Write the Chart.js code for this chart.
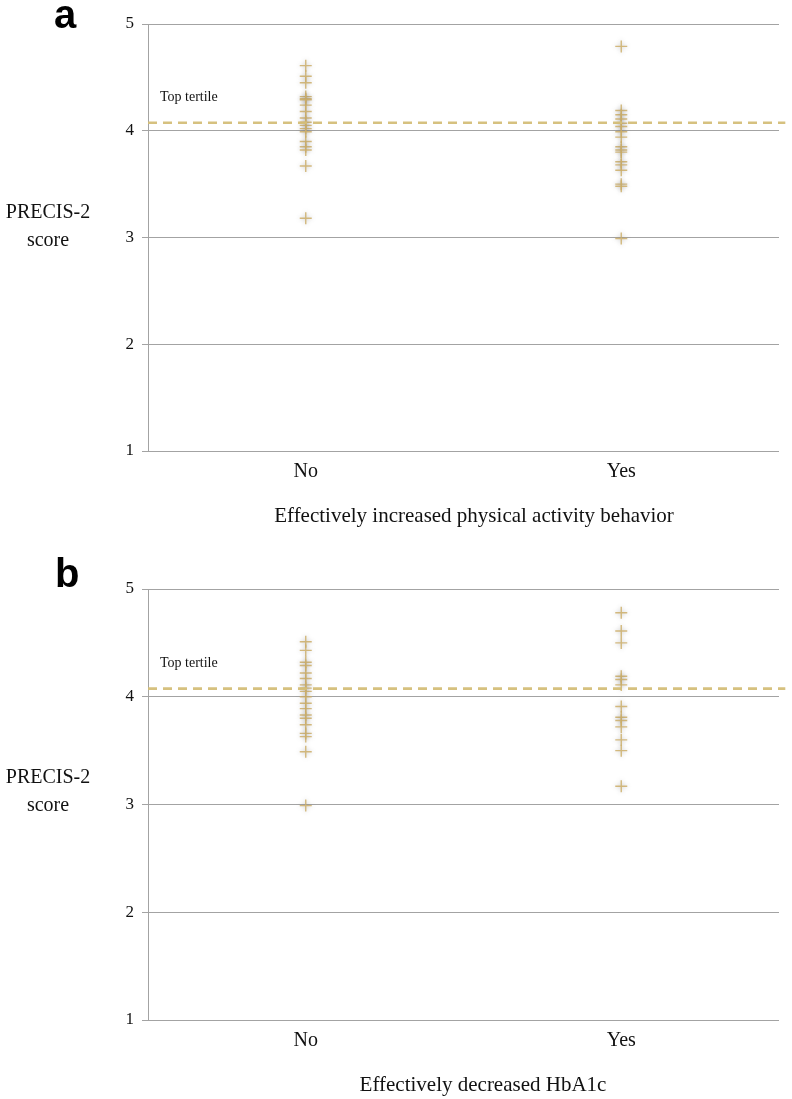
<!DOCTYPE html>
<html>
<head>
<meta charset="utf-8">
<script src="https://cdn.jsdelivr.net/npm/chart.js@4.4.1/dist/chart.umd.min.js"></script>
<style>
  html, body { margin: 0; padding: 0; background: #fff; width: 792px; height: 1099px; overflow: hidden; }
  .wrap { position: absolute; left: 0; width: 792px; }
  canvas { display: block; }
  .txt { position: absolute; white-space: nowrap; color: #111; font-family: "Liberation Serif", "DejaVu Serif", serif; }
  .letter { position: absolute; font-family: "Liberation Sans", Arial, sans-serif; font-weight: bold; font-size: 40px; color: #000; line-height: 1; }
  .ytitle { position: absolute; text-align: center; width: 110px; font-family: "Liberation Serif", serif; font-size: 20px; line-height: 28px; color: #111; }
  .xtitle { position: absolute; transform: translateX(-50%); font-family: "Liberation Serif", serif; font-size: 21px; color: #111; white-space: nowrap; }
  .tt { position: absolute; font-family: "Liberation Serif", serif; font-size: 14px; color: #111; }
</style>
</head>
<body>
<div class="wrap" style="top:0;height:540px;"><canvas id="ca" width="792" height="540"></canvas></div>
<div class="wrap" style="top:565px;height:534px;"><canvas id="cb" width="792" height="534"></canvas></div>

<div class="letter" style="left:54px;top:-6px;">a</div>
<div class="letter" style="left:55px;top:553px;">b</div>
<div class="ytitle" style="left:-7px;top:197px;">PRECIS-2<br>score</div>
<div class="ytitle" style="left:-7px;top:762px;">PRECIS-2<br>score</div>
<div class="tt" style="left:160px;top:89px;">Top tertile</div>
<div class="tt" style="left:160px;top:655px;">Top tertile</div>
<div class="xtitle" style="left:474px;top:503px;">Effectively increased physical activity behavior</div>
<div class="xtitle" style="left:483px;top:1072px;">Effectively decreased HbA1c</div>

<script>
// ---- data ----
const categories = ['No', 'Yes'];
const yTicks = [1, 2, 3, 4, 5];
const topTertile = 4.075;

// Panel a: Effectively increased physical activity behavior
const aNo  = [4.61, 4.51, 4.45, 4.32, 4.30, 4.29, 4.24, 4.18, 4.12, 4.08, 4.05, 4.02, 3.99, 3.90, 3.85, 3.82, 3.67, 3.18];
const aYes = [4.79, 4.19, 4.15, 4.11, 4.07, 4.04, 3.99, 3.94, 3.85, 3.82, 3.80, 3.71, 3.68, 3.63, 3.50, 3.48, 2.99];

// Panel b: Effectively decreased HbA1c
const bNo  = [4.51, 4.43, 4.32, 4.29, 4.22, 4.17, 4.11, 4.08, 4.05, 4.00, 3.94, 3.89, 3.83, 3.80, 3.74, 3.66, 3.63, 3.49, 2.99];
const bYes = [4.78, 4.61, 4.50, 4.19, 4.16, 4.11, 3.91, 3.81, 3.78, 3.72, 3.60, 3.50, 3.17];

// ---- chart ----
const GRID = '#a3a3a3';
const MARK = 'rgba(204,174,104,0.85)';
const DASH = 'rgba(212,190,120,0.95)';

const glowPlugin = {
  id: 'glow',
  beforeDatasetDraw(chart, args) {
    if (args.meta.type === 'scatter') {
      const ctx = chart.ctx;
      ctx.save();
      ctx.shadowColor = 'rgba(110,110,110,0.45)';
      ctx.shadowBlur = 4;
    }
  },
  afterDatasetDraw(chart, args) {
    if (args.meta.type === 'scatter') chart.ctx.restore();
  }
};

function makeChart(id, noVals, yesVals, xAxisHeight) {
  const pts = [];
  noVals.forEach(v => pts.push({ x: 1, y: v }));
  yesVals.forEach(v => pts.push({ x: 2, y: v }));
  return new Chart(document.getElementById(id), {
    type: 'scatter',
    data: {
      datasets: [
        {
          type: 'scatter',
          data: pts,
          pointStyle: 'cross',
          pointRadius: 6,
          pointBorderWidth: 1.4,
          borderColor: MARK,
          backgroundColor: MARK,
          order: 1
        },
        {
          type: 'line',
          data: [{ x: 0.5, y: topTertile }, { x: 2.52, y: topTertile }],
          borderColor: DASH,
          borderWidth: 2.6,
          borderDash: [9, 6],
          pointRadius: 0,
          clip: false,
          order: 0
        }
      ]
    },
    options: {
      responsive: false,
      animation: false,
      layout: { padding: { left: 0, right: 13, top: 24, bottom: 0 } },
      plugins: { legend: { display: false }, tooltip: { enabled: false } },
      scales: {
        x: {
          type: 'linear',
          min: 0.5,
          max: 2.5,
          afterBuildTicks: s => { s.ticks = categories.map((c, i) => ({ value: i + 1 })); },
          afterFit: s => { s.height = xAxisHeight; },
          ticks: {
            callback: v => categories[Math.round(v) - 1] || '',
            font: { family: 'Liberation Serif', size: 20 },
            color: '#111',
            padding: 9,
            maxRotation: 0
          },
          grid: { display: false, drawTicks: false },
          border: { display: false }
        },
        y: {
          min: 1,
          max: 5,
          afterBuildTicks: s => { s.ticks = yTicks.map(v => ({ value: v })); },
          afterFit: s => { s.width = 148; },
          ticks: {
            font: { family: 'Liberation Serif', size: 17 },
            color: '#111',
            padding: 8
          },
          grid: { color: GRID, lineWidth: 1, tickLength: 6 },
          border: { display: true, color: GRID, width: 1 }
        }
      }
    },
    plugins: [glowPlugin]
  });
}

makeChart('ca', aNo, aYes, 89);
makeChart('cb', bNo, bYes, 79);
</script>
</body>
</html>
